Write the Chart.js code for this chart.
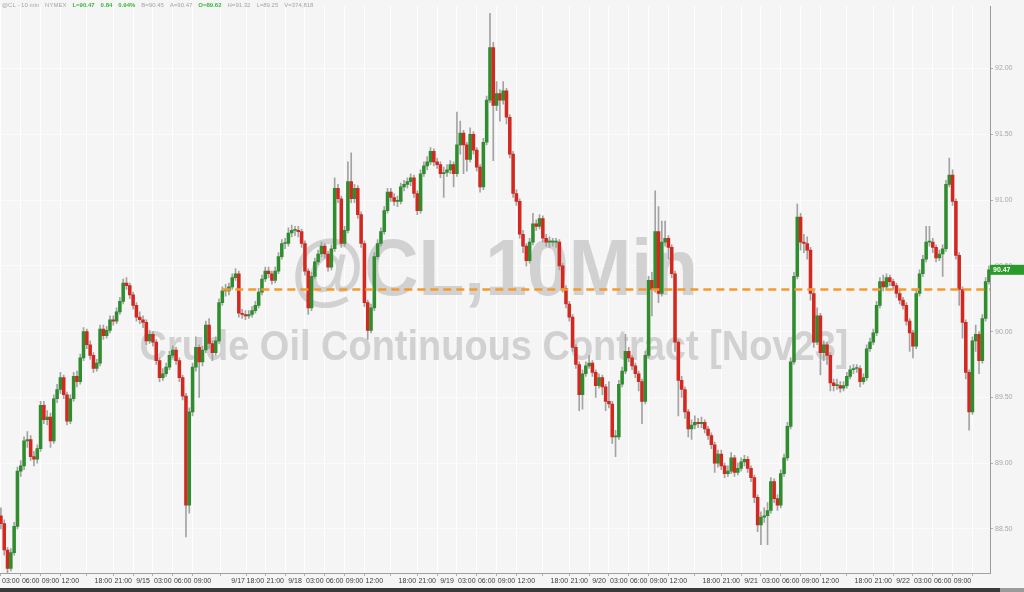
<!DOCTYPE html>
<html>
<head>
<meta charset="utf-8">
<script src="https://cdn.jsdelivr.net/npm/chart.js@4.4.0/dist/chart.umd.min.js"></script>
<style>
html,body{margin:0;padding:0;background:#f5f5f5;}
canvas{display:block;}
</style>
</head>
<body>
<canvas id="c" width="1024" height="592"></canvas>
<script>
// ---- DATA ----
// 30-minute candles [open, high, low, close], grouped by session (compressed trading hours)
const firstBarHour = 1.5;   // trading-hour position of the first candle (9/14 00:00 = 0)
const barHours = 0.5;

const sep14 = [
[88.60,88.66,88.50,88.54],[88.54,88.57,88.30,88.34],[88.34,88.36,88.15,88.20],[88.20,88.35,88.18,88.32],
[88.32,88.55,88.30,88.52],[88.52,88.97,88.50,88.94],[88.94,89.02,88.90,88.98],[88.98,89.20,88.95,89.17],
[89.17,89.24,89.12,89.18],[89.18,89.21,89.02,89.05],[89.05,89.09,88.98,89.03],[89.03,89.14,89.00,89.11],
[89.11,89.47,89.09,89.44],[89.44,89.47,89.30,89.33],[89.33,89.40,89.29,89.35],[89.35,89.38,89.12,89.17],
[89.17,89.52,89.15,89.49],[89.49,89.60,89.46,89.56],[89.56,89.69,89.53,89.65],[89.65,89.67,89.49,89.52],
[89.52,89.54,89.29,89.32],[89.32,89.52,89.30,89.49],[89.49,89.69,89.47,89.66],[89.66,89.70,89.58,89.62],
[89.62,89.83,89.60,89.80],[89.80,90.03,89.78,90.00],[90.00,90.02,89.87,89.90],[89.90,89.93,89.79,89.82],
[89.82,89.84,89.69,89.72],[89.72,89.79,89.70,89.76],[89.76,90.05,89.74,90.02],[90.02,90.05,89.94,89.97],
[89.97,90.04,89.95,90.01],[90.01,90.12,89.99,90.09],[90.09,90.12,90.05,90.08],[90.08,90.18,90.06,90.15],
[90.15,90.26,90.13,90.23],[90.23,90.40,90.21,90.37],[90.37,90.41,90.32,90.35],[90.35,90.37,90.25,90.28],
[90.28,90.30,90.17,90.20],[90.20,90.22,90.08,90.11],[90.11,90.15,90.06,90.09]
];
const sep15 = [
[90.09,90.12,90.03,90.07],[90.07,90.09,89.90,89.93],[89.93,90.01,89.91,89.98],[89.98,90.00,89.89,89.92],
[89.92,89.94,89.75,89.78],[89.78,89.80,89.62,89.65],[89.65,89.72,89.63,89.68],[89.68,89.76,89.66,89.73],
[89.73,89.85,89.71,89.82],[89.82,89.89,89.80,89.86],[89.86,89.88,89.75,89.78],[89.78,89.80,89.62,89.65],
[89.65,89.67,89.48,89.51],[89.51,89.53,88.44,88.68],[88.68,89.42,88.62,89.39],[89.39,89.76,89.36,89.73],
[89.73,89.96,89.70,89.88],[89.88,89.90,89.50,89.77],[89.77,89.89,89.74,89.86],[89.86,90.08,89.84,90.05],
[90.05,90.10,89.87,89.91],[89.91,89.93,89.78,89.84],[89.84,89.96,89.82,89.93],[89.93,90.25,89.91,90.22],
[90.22,90.34,90.20,90.31],[90.31,90.36,90.27,90.31],[90.31,90.37,90.28,90.34],[90.34,90.44,90.32,90.41],
[90.41,90.48,90.39,90.44]
];
const sep17 = [
[90.44,90.46,90.11,90.14],[90.14,90.17,90.10,90.13],[90.13,90.16,90.09,90.12],[90.12,90.16,90.10,90.13],
[90.13,90.19,90.11,90.16],[90.16,90.23,90.14,90.20],[90.20,90.33,90.18,90.30],[90.30,90.43,90.28,90.40],
[90.40,90.49,90.38,90.46],[90.46,90.49,90.41,90.44],[90.44,90.46,90.36,90.39],[90.39,90.49,90.37,90.46],
[90.46,90.60,90.44,90.57],[90.57,90.70,90.55,90.67],[90.67,90.71,90.63,90.67],[90.67,90.79,90.65,90.75],
[90.75,90.81,90.72,90.77]
];
const sep18 = [
[90.77,90.80,90.73,90.77],[90.77,90.80,90.72,90.76],[90.76,90.78,90.64,90.67],[90.67,90.69,90.43,90.46],
[90.46,90.48,90.13,90.18],[90.18,90.45,90.16,90.42],[90.42,90.56,90.40,90.53],[90.53,90.62,90.51,90.59],
[90.59,90.68,90.57,90.65],[90.65,90.67,90.56,90.59],[90.59,90.61,90.46,90.49],[90.49,90.66,90.47,90.63],
[90.63,91.17,90.61,91.09],[91.09,91.12,90.98,91.01],[91.01,91.03,90.64,90.67],[90.67,90.80,90.65,90.77],
[90.77,91.29,90.75,91.14],[91.14,91.36,90.98,91.01],[91.01,91.12,90.98,91.09],[91.09,91.11,90.86,90.89],
[90.89,90.91,90.64,90.67],[90.67,90.69,90.19,90.22],[90.22,90.24,89.94,90.01],[90.01,90.21,89.99,90.18],
[90.18,90.60,90.16,90.57],[90.57,90.70,90.55,90.67],[90.67,90.79,90.65,90.76],[90.76,90.95,90.74,90.92],
[90.92,91.09,90.90,91.06],[91.06,91.09,90.99,91.02],[91.02,91.05,90.96,90.99],[90.99,91.03,90.95,90.99],
[90.99,91.13,90.97,91.10],[91.10,91.15,91.07,91.12],[91.12,91.17,91.09,91.14],[91.14,91.20,91.11,91.17],
[91.17,91.19,91.02,91.05],[91.05,91.07,90.89,90.92],[90.92,91.23,90.90,91.20],[91.20,91.29,91.18,91.26],
[91.26,91.33,91.23,91.29],[91.29,91.40,91.27,91.37],[91.37,91.39,91.26,91.29],[91.29,91.32,91.24,91.27],
[91.27,91.29,91.17,91.20],[91.20,91.25,91.02,91.21]
];
const sep19 = [
[91.21,91.27,91.18,91.23],[91.23,91.30,91.20,91.27],[91.27,91.29,91.10,91.20],[91.20,91.67,91.18,91.42],
[91.42,91.60,91.35,91.51],[91.51,91.53,91.20,91.42],[91.42,91.44,91.22,91.31],[91.31,91.55,91.29,91.50],
[91.50,91.52,91.35,91.38],[91.38,91.40,91.22,91.25],[91.25,91.27,91.06,91.10],[91.10,91.47,91.08,91.44],
[91.44,91.79,91.42,91.76],[91.76,92.42,91.74,92.16],[92.16,92.20,91.30,91.72],[91.72,91.90,91.68,91.81],
[91.81,91.84,91.60,91.76],[91.76,91.90,91.73,91.83],[91.83,91.85,91.58,91.63],[91.63,91.65,91.32,91.35],
[91.35,91.37,91.02,91.05],[91.05,91.08,90.96,90.99],[90.99,91.01,90.71,90.74],[90.74,90.77,90.60,90.65],
[90.65,90.67,90.50,90.54],[90.54,90.71,90.52,90.68],[90.68,90.90,90.66,90.82],[90.82,90.85,90.77,90.80],
[90.80,90.89,90.78,90.86],[90.86,90.88,90.68,90.71],[90.71,90.74,90.65,90.68],[90.68,90.72,90.64,90.68],
[90.68,90.71,90.65,90.68],[90.68,90.71,90.64,90.68],[90.68,90.70,90.47,90.50],[90.50,90.52,90.30,90.33],
[90.33,90.35,90.18,90.21],[90.21,90.23,90.08,90.11],[90.11,90.13,89.85,89.88],[89.88,89.90,89.72,89.75],
[89.75,89.77,89.40,89.52],[89.52,89.71,89.41,89.68],[89.68,89.77,89.66,89.74],[89.74,89.82,89.72,89.76],
[89.76,89.78,89.66,89.69],[89.69,89.71,89.50,89.59]
];
const sep20 = [
[89.59,89.68,89.57,89.65],[89.65,89.67,89.52,89.58],[89.58,89.60,89.40,89.47],[89.47,89.62,89.42,89.45],
[89.45,89.47,89.15,89.20],[89.20,89.25,89.05,89.20],[89.20,89.63,89.18,89.60],[89.60,89.73,89.58,89.70],
[89.70,89.98,89.68,89.85],[89.85,89.88,89.77,89.80],[89.80,89.82,89.71,89.74],[89.74,89.76,89.65,89.68],
[89.68,89.70,89.55,89.62],[89.62,89.64,89.30,89.47],[89.47,89.85,89.45,89.82],[89.82,90.42,89.80,90.39],
[90.39,90.45,90.12,90.32],[90.32,91.07,90.30,90.76],[90.76,90.95,90.22,90.29],[90.29,90.84,90.27,90.68],
[90.68,90.84,90.65,90.71],[90.71,90.73,90.55,90.64],[90.64,90.66,90.41,90.44],[90.44,90.46,89.85,89.92],
[89.92,89.94,89.36,89.63],[89.63,89.66,89.50,89.56],[89.56,89.58,89.34,89.39],[89.39,89.41,89.20,89.26],
[89.26,89.33,89.18,89.29],[89.29,89.36,89.26,89.31],[89.31,89.34,89.27,89.30],[89.30,89.35,89.27,89.31],
[89.31,89.33,89.23,89.26],[89.26,89.28,89.18,89.21],[89.21,89.23,89.11,89.14],[89.14,89.16,88.93,89.00],
[89.00,89.10,88.97,89.07],[89.07,89.10,88.95,88.98],[88.98,89.00,88.89,88.92],[88.92,88.98,88.90,88.94],
[88.94,89.08,88.92,89.04],[89.04,89.06,88.90,88.93],[88.93,89.00,88.91,88.96],[88.96,89.04,88.94,89.01],
[89.01,89.06,88.98,89.03],[89.03,89.05,88.93,88.96]
];
const sep21 = [
[88.96,88.98,88.86,88.89],[88.89,88.91,88.70,88.74],[88.74,88.76,88.48,88.53],[88.53,88.63,88.38,88.59],
[88.59,88.66,88.55,88.60],[88.60,88.70,88.38,88.64],[88.64,88.89,88.62,88.86],[88.86,88.88,88.70,88.73],
[88.73,88.76,88.64,88.68],[88.68,88.95,88.66,88.92],[88.92,89.07,88.90,89.04],[89.04,89.31,89.02,89.28],
[89.28,89.80,89.26,89.77],[89.77,90.45,89.75,90.42],[90.42,90.97,90.40,90.87],[90.87,90.90,90.62,90.68],
[90.68,90.74,90.60,90.67],[90.67,90.72,90.55,90.62],[90.62,90.64,90.24,90.29],[90.29,90.31,89.88,89.92],
[89.92,90.18,89.90,90.12],[90.12,90.14,89.67,89.84],[89.84,89.93,89.78,89.90],[89.90,89.92,89.75,89.82],
[89.82,89.84,89.55,89.61],[89.61,89.64,89.55,89.59],[89.59,89.64,89.56,89.59],[89.59,89.62,89.54,89.57],
[89.57,89.62,89.55,89.59],[89.59,89.69,89.57,89.66],[89.66,89.74,89.64,89.71],[89.71,89.75,89.68,89.72],
[89.72,89.75,89.69,89.72],[89.72,89.74,89.58,89.62],[89.62,89.68,89.60,89.65],[89.65,89.90,89.63,89.87],
[89.87,89.95,89.85,89.92],[89.92,90.02,89.90,89.99],[89.99,90.23,89.97,90.20],[90.20,90.41,90.18,90.38],
[90.38,90.43,90.31,90.34],[90.34,90.44,90.32,90.41],[90.41,90.43,90.35,90.38],[90.38,90.40,90.32,90.35],
[90.35,90.37,90.26,90.29],[90.29,90.32,90.21,90.24]
];
const sep22 = [
[90.24,90.26,90.17,90.20],[90.20,90.22,90.05,90.08],[90.08,90.10,89.85,89.99],[89.99,90.01,89.80,89.89],
[89.89,90.32,89.87,90.29],[90.29,90.47,90.27,90.44],[90.44,90.58,90.42,90.55],[90.55,90.80,90.53,90.68],
[90.68,90.80,90.65,90.68],[90.68,90.71,90.60,90.64],[90.64,90.66,90.53,90.56],[90.56,90.62,90.54,90.59],
[90.59,90.66,90.42,90.63],[90.63,91.15,90.61,91.12],[91.12,91.32,91.10,91.19],[91.19,91.23,90.96,90.99],
[90.99,91.01,90.55,90.58],[90.58,90.60,90.20,90.32],[90.32,90.34,89.95,90.07],[90.07,90.09,89.64,89.69],
[89.69,89.71,89.25,89.39],[89.39,89.96,89.37,89.93],[89.93,90.05,89.85,89.98],[89.98,90.00,89.68,89.78],
[89.78,90.13,89.76,90.10],[90.10,90.41,90.08,90.38],[90.38,90.50,90.36,90.47]
];

// x-axis tick labels (positions in compressed trading hours)
const tickHours  = [3,6,9,12,17,20,23,26,29,32,37.4,40,43,46,49,52,55,58,63,66,69,72,75,78,81,86,89,92,95,98,101,104,109,112,115,118,121,124,127,132,135,138,141,144,147];
const tickLabels = ["03:00","06:00","09:00","12:00","18:00","21:00","9/15","03:00","06:00","09:00","9/17","18:00","21:00","9/18","03:00","06:00","09:00","12:00","18:00","21:00","9/19","03:00","06:00","09:00","12:00","18:00","21:00","9/20","03:00","06:00","09:00","12:00","18:00","21:00","9/21","03:00","06:00","09:00","12:00","18:00","21:00","9/22","03:00","06:00","09:00"];
const priceTicks = [88.50,89.00,89.50,90.00,90.50,91.00,91.50,92.00];

// reference level (orange dashed line)
const refLevel = 90.32;
const refStartHour = 35.0;

const header = [
  ["@CL - 10 min", "gray"], ["NYMEX", "gray"], ["L=90.47", "green"], ["0.84", "green"], ["0.94%", "green"],
  ["B=90.45", "gray"], ["A=90.47", "gray"], ["O=89.62", "green"], ["H=91.32", "gray"], ["L=89.25", "gray"], ["V=374,818", "gray"]
];
const watermarkTitle = "@CL,10Min";
const watermarkSub = "Crude Oil Continuous Contract [Nov23]";

// ---- BUILD ----
const candles = [...sep14, ...sep15, ...sep17, ...sep18, ...sep19, ...sep20, ...sep21, ...sep22];
const bodyData = candles.map((c, i) => ({x: firstBarHour + i * barHours, y: [c[0], c[3]], up: c[3] >= c[0]}));
const wickData = candles.map((c, i) => ({x: firstBarHour + i * barHours, y: [c[2], c[1]]}));
const lastClose = candles[candles.length - 1][3];

const X_MIN = 1.36, X_MAX = 151.16, Y_MIN = 88.165, Y_MAX = 92.474;
const UP = '#2f8d2f', DOWN = '#d2281f';

const deco = {
  id: 'deco',
  beforeDraw(chart) {
    const ctx = chart.ctx;
    ctx.save();
    ctx.fillStyle = '#f5f5f5';
    ctx.fillRect(0, 0, chart.width, chart.height);
    ctx.restore();
  },
  beforeDatasetsDraw(chart) {
    const ctx = chart.ctx, a = chart.chartArea;
    ctx.save();
    ctx.fillStyle = 'rgba(196,196,196,0.75)';
    ctx.textBaseline = 'alphabetic';
    const fit = (text, font, x0, x1, base) => {
      ctx.font = font;
      const w = ctx.measureText(text).width;
      ctx.save();
      ctx.translate(x0, base);
      ctx.scale((x1 - x0) / w, 1);
      ctx.fillText(text, 0, 0);
      ctx.restore();
    };
    const W = a.right - a.left, H = a.bottom - a.top;
    fit(watermarkTitle, 'bold 80px "Liberation Sans", Arial, sans-serif', a.left + W * 0.294, a.left + W * 0.705, a.top + H * 0.51);
    fit(watermarkSub, 'bold 42px "Liberation Sans", Arial, sans-serif', a.left + W * 0.141, a.left + W * 0.857, a.top + H * 0.625);
    ctx.restore();
  },
  afterDraw(chart) {
    const ctx = chart.ctx;
    ctx.save();
    // header
    ctx.textBaseline = 'middle';
    let x = 2;
    header.forEach(([t, c]) => {
      ctx.fillStyle = c === 'green' ? '#3cb43c' : '#a5a5a5';
      ctx.font = (c === 'green' ? 'bold ' : '') + '6px "Liberation Sans", Arial, sans-serif';
      ctx.fillText(t, x, 5);
      x += ctx.measureText(t).width + 6;
    });
    // last price tag
    const yS = chart.scales.y;
    const py = yS.getPixelForValue(lastClose);
    const ax = chart.chartArea.right;
    ctx.fillStyle = '#2a9a2a';
    ctx.fillRect(ax, py - 5, chart.width - ax, 10);
    ctx.fillStyle = '#ffffff';
    ctx.font = 'bold 7px "Liberation Sans", Arial, sans-serif';
    ctx.textBaseline = 'middle';
    ctx.fillText(lastClose.toFixed(2), ax + 3, py + 0.5);
    // bottom band
    ctx.fillStyle = '#3a3a3a';
    ctx.fillRect(0, chart.height - 4, chart.width, 4);
    ctx.fillStyle = '#9a9a9a';
    ctx.fillRect(chart.width - 24, chart.height - 4, 24, 4);
    ctx.restore();
  }
};

new Chart(document.getElementById('c'), {
  type: 'bar',
  data: {
    datasets: [
      {
        type: 'line',
        data: [{x: refStartHour, y: refLevel}, {x: X_MAX, y: refLevel}],
        borderColor: '#f39a2c',
        borderWidth: 2.5,
        borderDash: [8, 5],
        pointRadius: 0,
        order: 0
      },
      {
        data: bodyData,
        backgroundColor: ctx => (ctx.raw && ctx.raw.up) ? UP : DOWN,
        borderWidth: 0,
        barThickness: 2.9,
        minBarLength: 1,
        grouped: false,
        order: 1
      },
      {
        data: wickData,
        backgroundColor: '#a3a3a3',
        borderWidth: 0,
        barThickness: 1,
        grouped: false,
        order: 2
      }
    ]
  },
  options: {
    responsive: false,
    animation: false,
    devicePixelRatio: 1,
    layout: {padding: 0},
    plugins: {legend: {display: false}, tooltip: {enabled: false}},
    scales: {
      x: {
        type: 'linear',
        min: X_MIN, max: X_MAX,
        offset: false,
        afterBuildTicks: s => { s.ticks = tickHours.map(v => ({value: v})); },
        afterFit: s => { s.height = 19; },
        ticks: {
          autoSkip: false, maxRotation: 0, padding: 1,
          font: {size: 7, family: '"Liberation Sans", Arial, sans-serif'},
          color: '#3c3c3c',
          callback: (v, i) => tickLabels[i]
        },
        grid: {color: '#ffffff', lineWidth: 1, drawTicks: true, tickLength: 3, tickColor: '#b0b0b0'},
        border: {display: true, color: '#a0a0a0'}
      },
      y: {
        position: 'right',
        min: Y_MIN, max: Y_MAX,
        afterBuildTicks: s => { s.ticks = priceTicks.map(v => ({value: v})); },
        afterFit: s => { s.width = 34; },
        ticks: {
          padding: 2,
          font: {size: 7, family: '"Liberation Sans", Arial, sans-serif'},
          color: '#a8a8a8',
          callback: v => Number(v).toFixed(2)
        },
        grid: {color: '#fbfbfb', lineWidth: 1, drawTicks: true, tickLength: 3, tickColor: '#b0b0b0'},
        border: {display: true, color: '#9a9a9a'}
      }
    }
  },
  plugins: [deco]
});
</script>
</body>
</html>
